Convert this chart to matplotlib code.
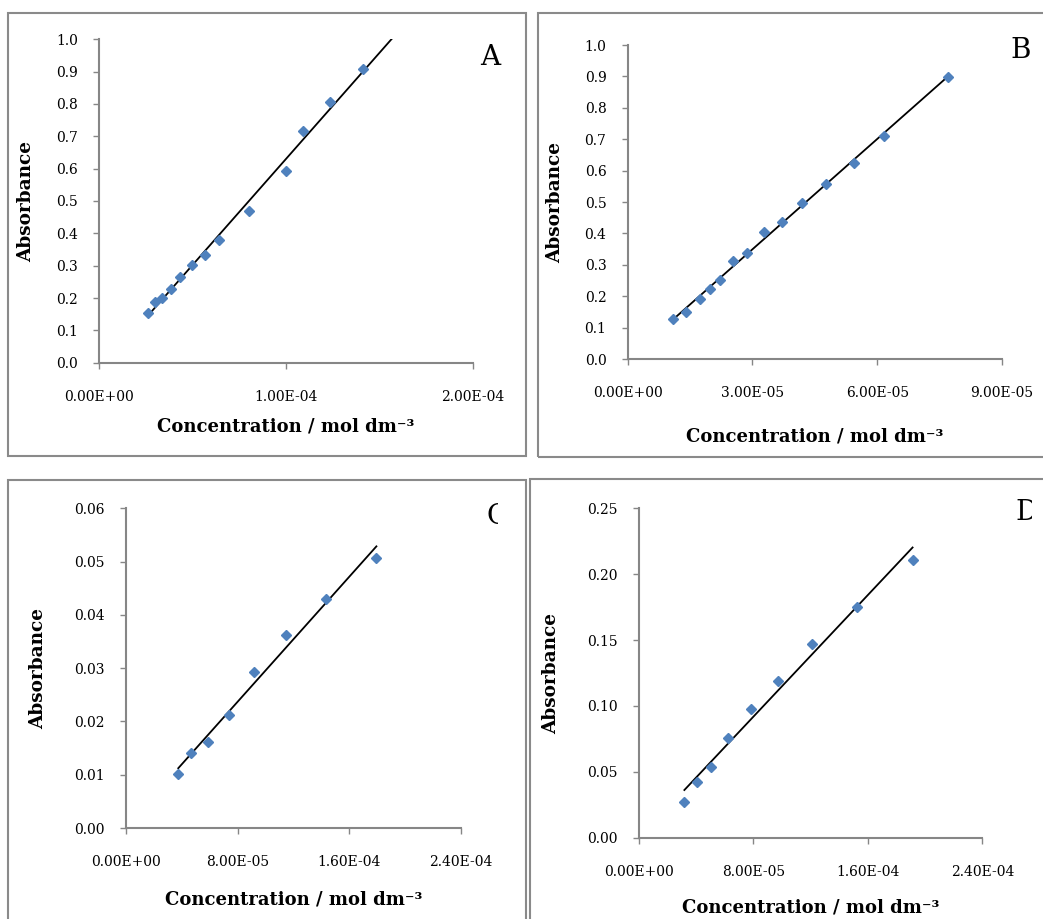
import numpy as np
import matplotlib
matplotlib.use("Agg")
import matplotlib.pyplot as plt
from matplotlib.patches import Rectangle
from matplotlib.transforms import Bbox, TransformedBbox

W, H = 1043, 919

# data
conc_a = [2.60e-5, 2.98e-5, 3.39e-5, 3.85e-5, 4.35e-5, 4.98e-5, 5.69e-5,
          6.44e-5, 8.01e-5, 1.00e-4, 1.094e-4, 1.238e-4, 1.411e-4]
abs_a = [0.155, 0.188, 0.201, 0.227, 0.264, 0.302, 0.334,
         0.379, 0.470, 0.592, 0.716, 0.807, 0.908]

conc_b = [1.10e-5, 1.39e-5, 1.74e-5, 1.97e-5, 2.23e-5, 2.53e-5, 2.88e-5,
          3.27e-5, 3.70e-5, 4.19e-5, 4.78e-5, 5.43e-5, 6.16e-5, 7.69e-5]
abs_b = [0.127, 0.149, 0.190, 0.223, 0.252, 0.312, 0.338,
         0.406, 0.435, 0.497, 0.558, 0.623, 0.711, 0.898]

conc_c = [3.73e-5, 4.67e-5, 5.86e-5, 7.35e-5, 9.16e-5, 1.144e-4, 1.436e-4, 1.795e-4]
abs_c = [0.0102, 0.0141, 0.0161, 0.0212, 0.0292, 0.0362, 0.0429, 0.0507]

conc_d = [3.19e-5, 4.05e-5, 5.03e-5, 6.24e-5, 7.82e-5, 9.75e-5, 1.213e-4, 1.522e-4, 1.913e-4]
abs_d = [0.0273, 0.0420, 0.0536, 0.0754, 0.0974, 0.1192, 0.1468, 0.1748, 0.2110]

xticks_a = [0, 1e-4, 2e-4]
xticks_b = [0, 3e-5, 6e-5, 9e-5]
xticks_cd = [0, 8e-5, 1.6e-4, 2.4e-4]
yticks_ab = np.arange(0, 1.01, 0.1)
yticks_c = np.arange(0, 0.061, 0.01)
yticks_d = np.arange(0, 0.251, 0.05)

BLUE = "#4f81bd"
GREY = "#868686"
FONT = "DejaVu Serif"

plt.rcParams["font.family"] = FONT


def px_rect(left, top, right, bottom):
    return [left / W, 1 - bottom / H, (right - left) / W, (bottom - top) / H]


fig = plt.figure(figsize=(W / 100, H / 100), dpi=100)

# grey chart frames (some run off the page like in the source)
frames = [(8, 13, 526, 456), (537.5, 13, 1060, 456.5),
          (8, 480, 526, 940), (530, 479.5, 1060, 940)]
for l, t, r, b in frames:
    fig.patches.append(Rectangle((l / W, 1 - b / H), (r - l) / W, (b - t) / H,
                                 transform=fig.transFigure, fill=False,
                                 edgecolor="#8a8a8a", lw=1.5))

panels = [
    # x, y, axes rect px, xlim, ylim, xticks, yticks, yfmt, fit end, ylabel x, xlabel y
    (conc_a, abs_a, (99, 39.3, 472.7, 362.7), 2e-4, 1.0, xticks_a, yticks_ab, "%.1f", 1.7e-4, -0.195, -0.198),
    (conc_b, abs_b, (627.7, 45, 1002, 359), 9e-5, 1.0, xticks_b, yticks_ab, "%.1f", None, -0.194, -0.2475),
    (conc_c, abs_c, (126.3, 508.3, 460.7, 828), 2.4e-4, 0.06, xticks_cd, yticks_c, "%.2f", None, -0.263, -0.225),
    (conc_d, abs_d, (638.7, 508.3, 982.3, 837.7), 2.4e-4, 0.25, xticks_cd, yticks_d, "%.2f", None, -0.256, -0.213),
]

for x, y, rect, xmax, ymax, xt, yt, yfmt, xend, ylx, xly in panels:
    ax = fig.add_axes(px_rect(*rect))
    x = np.array(x)
    y = np.array(y)
    slope, icpt = np.polyfit(x, y, 1)
    x_line = np.array([x.min(), xend if xend else x.max()])
    ax.plot(x_line, slope * x_line + icpt, color="black", lw=1.3, zorder=2)
    ax.plot(x, y, ls="none", marker="D", ms=5.0, color=BLUE, zorder=3)

    ax.set_xlim(0, xmax)
    ax.set_ylim(0, ymax)
    ax.set_xticks(xt)
    ax.set_xticklabels(["%.2E" % v for v in xt])
    ax.set_yticks(yt)
    ax.set_yticklabels([yfmt % v for v in yt])
    for s in ("top", "right"):
        ax.spines[s].set_visible(False)
    for s in ("left", "bottom"):
        ax.spines[s].set_color(GREY)
        ax.spines[s].set_linewidth(1.5)
    ax.tick_params(axis="both", direction="out", length=4.3, width=1.0,
                   color=GREY, labelsize=10, labelcolor="black")
    ax.tick_params(axis="x", pad=15)
    ax.tick_params(axis="y", pad=11)

    ax.set_ylabel("Absorbance", fontsize=13.3, fontweight="bold", va="center")
    ax.yaxis.set_label_coords(ylx, 0.5)
    ax.set_xlabel("Concentration / mol dm\u207b\u00b3", fontsize=13,
                  fontweight="bold", va="center")
    ax.xaxis.set_label_coords(0.5, xly)

# panel letters, C and D are cut off at the chart edge in the source
letters = [("A", 490, 57.5, None), ("B", 1021, 50, None),
           ("C", 497.5, 517, 498), ("D", 1027, 513, 1032)]
for txt, cx, cy, clip_x in letters:
    t = fig.text(cx / W, 1 - cy / H, txt, fontsize=20, ha="center", va="center")
    if clip_x is not None:
        bb = Bbox.from_extents(0, 0, clip_x / W, 1)
        t.set_clip_box(TransformedBbox(bb, fig.transFigure))
        t.set_clip_on(True)

fig.savefig("out.png", dpi=100)
